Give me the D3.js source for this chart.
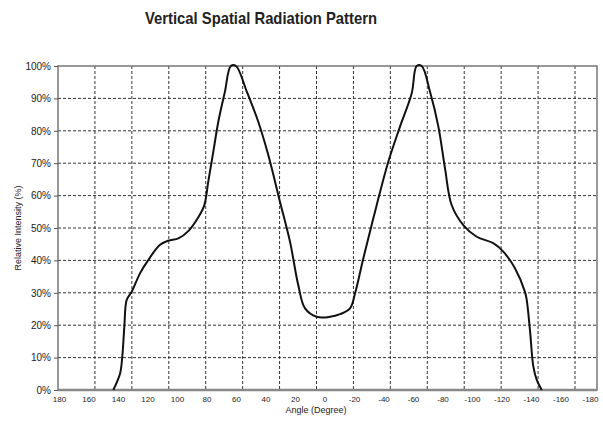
<meta charset="utf-8" />
<script src="https://d3js.org/d3.v7.min.js"></script>
<style>
  body { margin: 0; background: #fff; }
  svg text { fill: #222; }
  .grid line { stroke: #333; stroke-width: 1; stroke-dasharray: 3, 2; }
  .axis path { display: none; }
  .axis--y line { stroke: #555; }
</style>
<svg width="603" height="424"></svg>
<script>
  // angle (deg) and relative intensity (%)
  var angles = [143.2, 138.6, 137.1, 135.7, 134.1, 130.7, 125.1, 119.5, 111.5, 105.9, 99.1, 92, 86,
    81.5, 78.8, 75.4, 72.0, 67.5, 63.5, 60, 52.7, 44.9, 38.1, 30.2, 23.4, 17.8, 13.2, 5.3, -3.7,
    -10.5, -17.3, -20.7, -26.3, -33.1, -43.3, -51.2, -59.1, -62.5, -65.9, -71.5, -77.2, -81.7, -86.2,
    -94.1, -103.2, -114.4, -121.2, -129.2, -135.9, -137.1, -139.3, -141.6, -143.9, -147.3];
  var intensity = [0, 5.1, 10.3, 19.5, 27.8, 30.3, 36, 40.1, 44.8, 46.1, 46.8, 49.2, 53,
    57, 64.3, 73.5, 82.8, 92.1, 100, 100, 92.1, 82.8, 72.5, 58.1, 45.8, 32.4, 25.2, 22.6, 22.6,
    23.4, 25.2, 29.8, 40.6, 53, 70.5, 81.3, 91.5, 100, 100, 92.1, 81.3, 68.4, 57.1,
    50.9, 47.3, 45.3, 42.7, 37.5, 30.3, 27.8, 18.5, 7.2, 3.1, 0];
  var xTicks = [180, 160, 140, 120, 100, 80, 60, 40, 20, 0, -20, -40, -60, -80, -100, -120, -140, -160, -180];
  var yTicks = [0, 10, 20, 30, 40, 50, 60, 70, 80, 90, 100];
  var gridCols = [1, 2, 3, 4, 5, 6, 7, 8, 9, 10, 11, 12, 13, 14];

  var data = angles.map(function (a, i) {
    return { angle: a, value: intensity[i] };
  });

  var font = "'Liberation Sans', Arial, sans-serif";
  var svg = d3.select("svg");
  var plotLeft = 58, plotRight = 597, plotTop = 66, plotBottom = 390;

  var x = d3.scaleLinear().domain([180, -180]).range([plotLeft + 1, plotRight - 7]);
  var y = d3.scaleLinear().domain([0, 100]).range([plotBottom, plotTop]);
  // the vertical grid is laid out at a fixed spacing, independent of the labels
  var gx = d3.scaleLinear().domain([0, 14]).range([plotLeft, 575]);

  svg.append("text")
    .attr("x", 261)
    .attr("y", 24)
    .attr("text-anchor", "middle")
    .attr("textLength", 232)
    .attr("lengthAdjust", "spacingAndGlyphs")
    .style("font-family", font)
    .style("font-weight", "bold")
    .style("font-size", "17px")
    .text("Vertical Spatial Radiation Pattern");

  var grid = svg.append("g").attr("class", "grid");
  grid.selectAll(".hline")
    .data(yTicks.slice(1, -1))
    .enter()
    .append("line")
    .attr("x1", plotLeft).attr("x2", plotRight)
    .attr("y1", function (d) { return y(d); })
    .attr("y2", function (d) { return y(d); });
  grid.selectAll(".vline")
    .data(gridCols)
    .enter()
    .append("line")
    .attr("x1", function (d) { return gx(d); })
    .attr("x2", function (d) { return gx(d); })
    .attr("y1", plotTop).attr("y2", plotBottom);

  svg.append("rect")
    .attr("x", plotLeft).attr("y", plotTop)
    .attr("width", plotRight - plotLeft).attr("height", plotBottom - plotTop)
    .attr("fill", "none")
    .attr("stroke", "#777")
    .attr("stroke-width", 1.5);

  svg.append("line")
    .attr("x1", plotLeft).attr("x2", plotRight)
    .attr("y1", plotBottom).attr("y2", plotBottom)
    .attr("stroke", "#888")
    .attr("stroke-width", 2.5);

  svg.append("g")
    .attr("class", "axis axis--y")
    .attr("transform", "translate(" + plotLeft + ",0)")
    .call(d3.axisLeft(y).tickValues(yTicks).tickSize(4).tickPadding(3)
      .tickFormat(function (d) { return d + "%"; }))
    .selectAll("text")
    .style("font-family", font)
    .style("font-size", "10px");

  svg.append("g")
    .attr("class", "axis axis--x")
    .attr("transform", "translate(0," + plotBottom + ")")
    .call(d3.axisBottom(x).tickValues(xTicks).tickSize(0).tickPadding(6)
      .tickFormat(function (d) { return String(d); }))
    .selectAll("text")
    .style("font-family", font)
    .style("font-size", "8px");

  svg.append("text")
    .attr("transform", "translate(21," + (plotTop + plotBottom) / 2 + ") rotate(-90)")
    .attr("text-anchor", "middle")
    .style("font-family", font)
    .style("font-size", "9px")
    .text("Relative Intensity (%)");

  svg.append("text")
    .attr("x", 316)
    .attr("y", 413)
    .attr("text-anchor", "middle")
    .style("font-family", font)
    .style("font-size", "9px")
    .text("Angle (Degree)");

  var line = d3.line()
    .x(function (d) { return x(d.angle); })
    .y(function (d) { return y(d.value); })
    .curve(d3.curveCatmullRom.alpha(0.5));

  svg.append("path")
    .datum(data)
    .attr("fill", "none")
    .attr("stroke", "#111")
    .attr("stroke-width", 2)
    .attr("d", line);
</script>
